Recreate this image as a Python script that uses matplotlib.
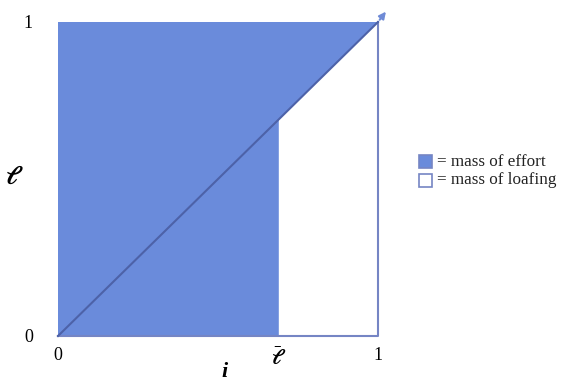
import matplotlib
matplotlib.use("Agg")
import matplotlib.pyplot as plt
import numpy as np
from matplotlib.patches import Rectangle

plt.rcParams['mathtext.fontset'] = 'dejavuserif'

# data
lbar = 0.69
diag_x = [0.0, 1.0]
diag_y = [0.0, 1.0]
x_ticks = [0.0, lbar, 1.0]
x_ticklabels = ['0', r'$\bar{\boldsymbol{\ell}}$', '1']
y_ticks = [0.0, 1.0]
y_ticklabels = ['0', '1']
legend_labels = ['= mass of effort', '= mass of loafing']

fill_c = '#6a8bdb'
line_c = '#4d62a8'
edge_c = '#7585c4'

fig = plt.figure(figsize=(5.71, 3.85), dpi=100)
ax = fig.add_axes([58/571, (385-336)/385, 320/571, 314/385])
ax.set_xlim(0, 1)
ax.set_ylim(0, 1)

# effort region: full column up to lbar, then triangle above diagonal
px = [0.0, lbar, lbar, diag_x[1], 0.0]
py = [0.0, 0.0, lbar, diag_y[1], 1.0]
ax.fill(px, py, color=fill_c, lw=0)

# outline of loafing region
ax.plot([0.0, 1.0, 1.0], [0.0, 0.0, 1.0], color=edge_c, lw=1.5, clip_on=False)

# diagonal with arrow
ax.plot(diag_x, diag_y, color=line_c, lw=1.5, clip_on=False)
ax.annotate('', xy=(1.03, 1.04), xytext=(1.0, 1.0),
            arrowprops=dict(arrowstyle='-|>', color='#6f8bd6', lw=1.5,
                            mutation_scale=10), annotation_clip=False)

for s in ax.spines.values():
    s.set_visible(False)
ax.set_xticks(x_ticks)
ax.set_xticklabels(x_ticklabels, fontsize=13, fontfamily='Liberation Serif')
ax.get_xticklabels()[1].set_fontsize(15)
ax.set_yticks(y_ticks)
ax.set_yticklabels(y_ticklabels, fontsize=13, fontfamily='Liberation Serif')
ax.tick_params(length=0, pad=8)
ax.tick_params(axis='y', pad=18)

fig.text(225/571, 1-372/385, 'i', fontsize=16, ha='center', va='center',
         fontweight='bold', fontstyle='italic', fontfamily='Liberation Serif')
fig.text(14/571, 1-177/385, r'$\boldsymbol{\ell}$', fontsize=19, ha='center', va='center')

# legend
for k, (lab, fc) in enumerate(zip(legend_labels, [fill_c, 'white'])):
    y0 = 155 + k*19
    fig.patches.append(Rectangle((419/571, 1-(y0+13)/385), 13/571, 13/385,
                                 transform=fig.transFigure, facecolor=fc,
                                 edgecolor=edge_c, lw=1.2))
    fig.text(437/571, 1-(y0+6.5)/385, lab, fontsize=12.3,
             fontfamily='Liberation Serif', va='center', ha='left', color='#222222')

fig.savefig('out.png', dpi=100)
